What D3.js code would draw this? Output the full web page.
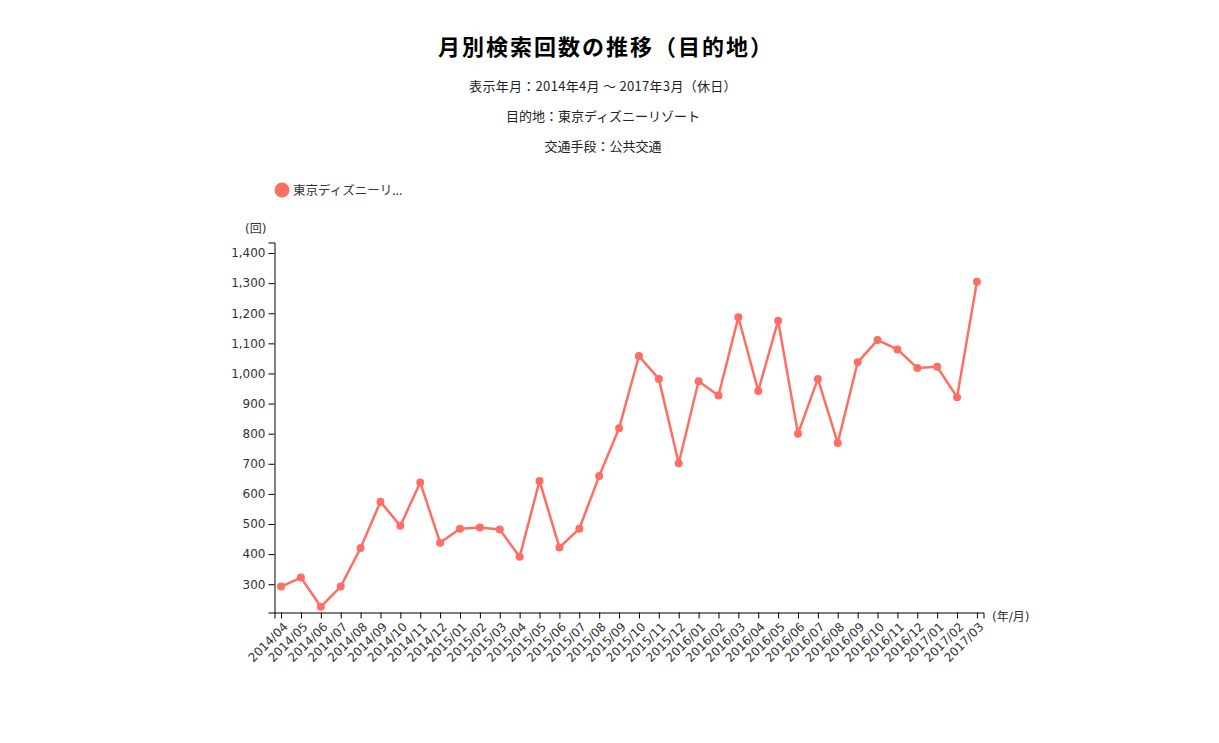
<!DOCTYPE html>
<html>
<head>
<meta charset="utf-8">
<script src="https://cdn.jsdelivr.net/npm/d3@7"></script>
<style>
  body { margin: 0; background: #fff; }
  text { font-family: "DejaVu Sans", "Noto Sans CJK JP", sans-serif; }
  .cjk { font-family: "Noto Sans CJK JP", sans-serif; }
</style>
</head>
<body>
<svg id="canvas" width="1219" height="743"></svg>
<script>
// months on the x axis
const months = [
    '2014/04','2014/05','2014/06','2014/07','2014/08','2014/09','2014/10','2014/11','2014/12',
    '2015/01','2015/02','2015/03','2015/04','2015/05','2015/06','2015/07','2015/08','2015/09',
    '2015/10','2015/11','2015/12','2016/01','2016/02','2016/03','2016/04','2016/05','2016/06',
    '2016/07','2016/08','2016/09','2016/10','2016/11','2016/12','2017/01','2017/02','2017/03'
];
// search counts
const counts = [
    292, 322, 225, 292, 420, 574, 494, 638, 438,
    484, 488, 482, 391, 643, 422, 484, 659, 818,
    1058, 982, 702, 974, 927, 1187, 942, 1175, 800,
    982, 769, 1037, 1111, 1080, 1018, 1022, 921, 1305
];
const yTicks = [300, 400, 500, 600, 700, 800, 900, 1000, 1100, 1200, 1300, 1400];
const seriesName = '東京ディズニーリゾート';
const titleLines = ['表示年月：2014年4月 ～ 2017年3月（休日）', '目的地：東京ディズニーリゾート', '交通手段：公共交通'];

const color = '#ff6e63';
const svg = d3.select('#canvas');

const x = d3.scalePoint().domain(months).range([274.5, 983.5]).padding(0.33);
const y = d3.scaleLinear().domain([206, 1435]).range([612.5, 242.5]);

// titles
svg.append('text')
    .attr('class', 'cjk')
    .attr('x', 606).attr('y', 55)
    .attr('text-anchor', 'middle')
    .style('font-size', '22px').style('font-weight', 'bold')
    .style('letter-spacing', '2px').style('fill', '#000')
    .text('月別検索回数の推移（目的地）');

svg.selectAll('.sub')
    .data(titleLines)
    .join('text')
    .attr('class', 'sub cjk')
    .attr('x', 603)
    .attr('y', (d, i) => 91 + i * 30)
    .attr('text-anchor', 'middle')
    .style('font-size', '13px').style('fill', '#222')
    .style('letter-spacing', (d, i) => i === 0 ? '0.3px' : '0px')
    .text(d => d);

// legend
svg.append('circle').attr('cx', 282).attr('cy', 190).attr('r', 7.5).style('fill', color);
svg.append('text')
    .attr('class', 'cjk')
    .attr('x', 293).attr('y', 194.5)
    .style('font-size', '12.5px').style('fill', '#333')
    .text(seriesName.slice(0, 8) + '...');

// axes
svg.append('g')
    .attr('transform', 'translate(274.5,0)')
    .call(d3.axisLeft(y).tickValues(yTicks).tickFormat(d3.format(',')));

const xAxis = svg.append('g')
    .attr('transform', 'translate(0,612.5)')
    .call(d3.axisBottom(x));

xAxis.selectAll('.tick text')
    .attr('x', 0).attr('y', 0).attr('dy', '0.35em')
    .attr('text-anchor', 'end')
    .attr('transform', 'translate(4,12) rotate(-45)');

svg.selectAll('.tick text')
    .style('font-size', '12px')
    .style('fill', '#333')
    .style('font-family', '"DejaVu Sans", sans-serif');
svg.selectAll('.domain, .tick line').style('stroke', '#000');

svg.append('text')
    .attr('x', 245).attr('y', 233)
    .style('font-size', '12px').style('fill', '#333')
    .text('(回)');
svg.append('text')
    .attr('x', 992).attr('y', 621)
    .style('font-size', '12px').style('fill', '#333')
    .text('(年/月)');

// line and points
const line = d3.line()
    .x((d, i) => x(months[i]))
    .y(d => y(d));

svg.append('path')
    .datum(counts)
    .attr('d', line)
    .style('fill', 'none')
    .style('stroke', color)
    .style('stroke-width', 2.5);

svg.selectAll('.dot')
    .data(counts)
    .join('circle')
    .attr('class', 'dot')
    .attr('cx', (d, i) => x(months[i]))
    .attr('cy', d => y(d))
    .attr('r', 4)
    .style('fill', color);
</script>
</body>
</html>
